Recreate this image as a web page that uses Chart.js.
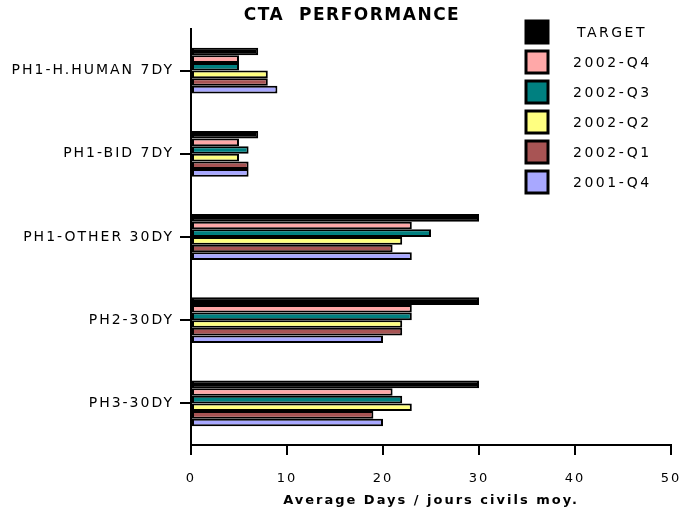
<!DOCTYPE html>
<html>
<head>
<meta charset="utf-8">
<script src="https://cdn.jsdelivr.net/npm/chart.js@4/dist/chart.umd.min.js"></script>
<style>
  html, body { margin: 0; padding: 0; background: #fff; }
  #wrap { position: relative; width: 681px; height: 514px; }
</style>
</head>
<body>
<div id="wrap"><canvas id="c" width="681" height="514"></canvas></div>
<script>
const categories = ["PH1-H.HUMAN 7DY", "PH1-BID 7DY", "PH1-OTHER 30DY", "PH2-30DY", "PH3-30DY"];
const seriesNames = ["TARGET", "2002-Q4", "2002-Q3", "2002-Q2", "2002-Q1", "2001-Q4"];
const target   = [7, 7, 30, 30, 30];
const q4_2002  = [5, 5, 23, 23, 21];
const q3_2002  = [5, 6, 25, 23, 22];
const q2_2002  = [8, 5, 22, 22, 23];
const q1_2002  = [8, 6, 21, 22, 19];
const q4_2001  = [9, 6, 23, 20, 20];
const xTicks = [0, 10, 20, 30, 40, 50];
const colors = ["#000000", "#FFA8A8", "#008080", "#FFFF80", "#A85454", "#A8A8FF"];

const seriesValues = [target, q4_2002, q3_2002, q2_2002, q1_2002, q4_2001];
const FONT = "'DejaVu Sans', sans-serif";

const spacingPlugin = {
  id: 'spacing',
  beforeDraw(chart) { chart.ctx.letterSpacing = '2px'; }
};

const decoPlugin = {
  id: 'deco',
  afterDraw(chart) {
    const ctx = chart.ctx;
    ctx.save();
    // title
    ctx.letterSpacing = '1.5px';
    ctx.font = "bold 17px " + FONT;
    ctx.fillStyle = '#000';
    ctx.textAlign = 'center';
    ctx.textBaseline = 'middle';
    ctx.fillText("CTA  PERFORMANCE", 352, 16);
    // legend
    ctx.letterSpacing = '2.5px';
    ctx.font = "14px " + FONT;
    ctx.textAlign = 'left';
    chart.data.datasets.forEach((ds, i) => {
      const cy = 32 + i * 30;
      ctx.fillStyle = ds.backgroundColor;
      ctx.fillRect(526, cy - 11, 22, 22);
      ctx.lineWidth = 3;
      ctx.strokeStyle = '#000';
      ctx.strokeRect(526, cy - 11, 22, 22);
      ctx.fillStyle = '#000';
      ctx.fillText(ds.label, i === 0 ? 577 : 573, cy + 1);
    });
    ctx.restore();
  }
};

new Chart(document.getElementById('c'), {
  type: 'bar',
  data: {
    labels: categories,
    datasets: seriesNames.map((n, i) => ({
      label: n,
      data: seriesValues[i],
      backgroundColor: colors[i],
      borderColor: '#000',
      borderWidth: 2,
      borderSkipped: false
    }))
  },
  options: {
    indexAxis: 'y',
    responsive: false,
    animation: false,
    devicePixelRatio: 1,
    layout: { padding: { top: 29, right: 10, bottom: 0, left: 0 } },
    datasets: { bar: { categoryPercentage: 0.55, barPercentage: 1.0 } },
    plugins: { legend: { display: false }, title: { display: false }, tooltip: { enabled: false } },
    scales: {
      x: {
        min: 0, max: 50,
        afterFit(s) { s.height = 69; s.paddingLeft = 0; s.paddingRight = 0; },
        afterBuildTicks(s) { s.ticks = xTicks.map(v => ({ value: v })); },
        border: { color: '#000', width: 2 },
        grid: { display: true, drawOnChartArea: false, drawTicks: true, tickLength: 10, color: '#000', lineWidth: 2 },
        ticks: { color: '#000', font: { family: FONT, size: 13 }, padding: 16, maxRotation: 0 },
        title: { display: true, text: "Average Days / jours civils moy.", color: '#000', font: { family: FONT, size: 13, weight: 'bold' }, padding: { top: 2, bottom: 6 } }
      },
      y: {
        afterFit(s) { s.width = 191; s.paddingTop = 0; s.paddingBottom = 0; },
        border: { color: '#000', width: 2 },
        grid: { display: true, offset: false, drawOnChartArea: false, drawTicks: true, tickLength: 11, color: '#000', lineWidth: 2 },
        ticks: { color: '#000', font: { family: FONT, size: 14 }, padding: 6 }
      }
    }
  },
  plugins: [spacingPlugin, decoPlugin]
});
</script>
</body>
</html>
